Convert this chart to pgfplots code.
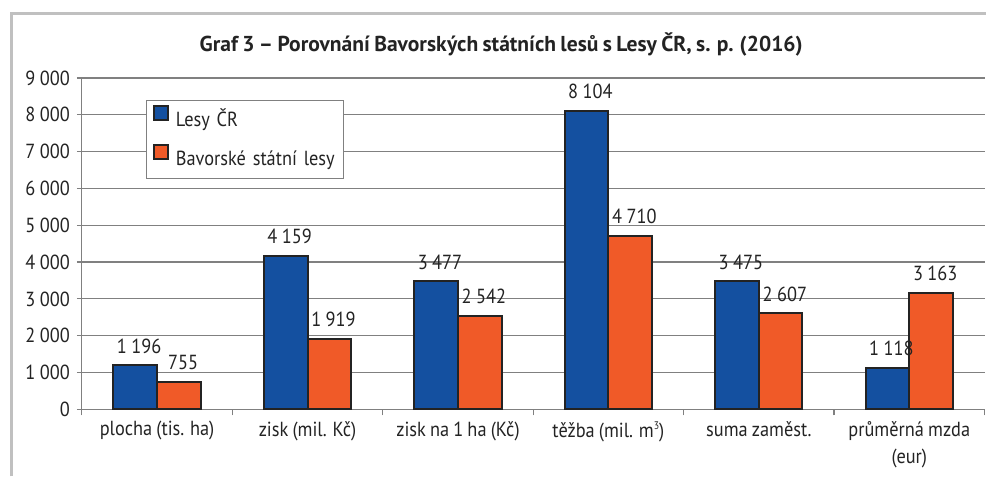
\documentclass[border=0pt]{standalone}
\usepackage{fontspec}
\setmainfont{PT Sans}[FakeStretch=0.9, WordSpace=0.85]
\newfontfamily\titlefont{PT Sans}[WordSpace=0.8]
\usepackage{pgfplots}
\pgfplotsset{compat=1.18}
\definecolor{barblue}{RGB}{20,80,160}
\definecolor{barorange}{RGB}{240,90,40}
\definecolor{framegray}{RGB}{192,192,192}
\definecolor{gridgray}{RGB}{128,128,128}
\definecolor{edge}{RGB}{35,35,35}
\newcommand{\lf}{\fontsize{10.2}{13.5}\selectfont}
\begin{document}
\begin{tikzpicture}[font=\lf]
\path (-41pt,-33.5pt) rectangle (452.5pt,205pt);
\draw[framegray, line width=1.5pt] (-35pt,-33.5pt) -- (-35pt,198pt) -- (452.5pt,198pt);
\node[anchor=base, font=\titlefont\fontsize{10.8}{12}\selectfont\bfseries, text=edge] at (210pt,179pt) {Graf 3 – Porovnání Bavorských státních lesů s Lesy ČR, s. p. (2016)};
\begin{axis}[
 at={(0pt,0pt)}, anchor=south west,
 scale only axis, width=452pt, height=166pt,
 xmin=-0.5, xmax=5.5, ymin=0, ymax=9000,
 axis x line*=bottom, axis y line*=left,
 axis line style={gridgray, line width=0.6pt},
 ytick={0,1000,...,9000},
 ymajorgrids, grid style={gridgray, line width=0.6pt},
 tick align=outside,
 major tick length=2.5pt,
 minor tick length=3pt,
 tick style={gridgray, line width=0.6pt},
 xtick={0,...,5},
 xticklabels={plocha (tis. ha), zisk (mil. Kč), zisk na 1 ha (Kč), {těžba (mil. m\raisebox{0.8ex}{\fontsize{5.5}{6}\selectfont 3})}, suma zaměst., {průměrná mzda\\(eur)}},
 major x tick style={draw=none},
 minor xtick={-0.5,0.5,...,5.5},
 xticklabel style={align=center, font=\lf, text=edge},
 yticklabel style={font=\lf, text=edge},
 /pgf/number format/assume math mode=true,
 /pgf/number format/1000 sep={\hspace{0.22em}},
 nodes near coords style={anchor=south, inner sep=0pt, yshift=5.5pt, text=edge, font=\lf},
 legend style={at={(axis description cs:0.0708,0.934)}, anchor=north west, draw=gridgray, line width=0.6pt, fill=white,
   inner xsep=3.5pt, inner ysep=0pt, row sep=0pt, column sep=3.5pt,
   nodes={inner sep=0pt, text height=13.25pt, text depth=6.25pt, text width=80.5pt, align=left, text=edge},
   font=\lf},
 legend cell align=left,
]
\addplot[ybar, bar width=0.29, bar shift=-0.145, fill=barblue, draw=edge, line width=1pt,
  nodes near coords, every node near coord/.append style={xshift=-9pt},
  legend image code/.code={\draw[fill=barblue, draw=edge, line width=0.8pt] (0pt,0pt) rectangle (7pt,7pt);}]
  coordinates {(0,1196) (1,4159) (2,3477) (3,8104) (4,3475) (5,1118)};
\addlegendentry{Lesy ČR}
\addplot[ybar, bar width=0.29, bar shift=0.145, fill=barorange, draw=edge, line width=1pt,
  nodes near coords, every node near coord/.append style={xshift=13pt},
  legend image code/.code={\draw[fill=barorange, draw=edge, line width=0.8pt] (0pt,0pt) rectangle (7pt,7pt);}]
  coordinates {(0,755) (1,1919) (2,2542) (3,4710) (4,2607) (5,3163)};
\addlegendentry{Bavorské státní lesy}
\end{axis}
\end{tikzpicture}
\end{document}
